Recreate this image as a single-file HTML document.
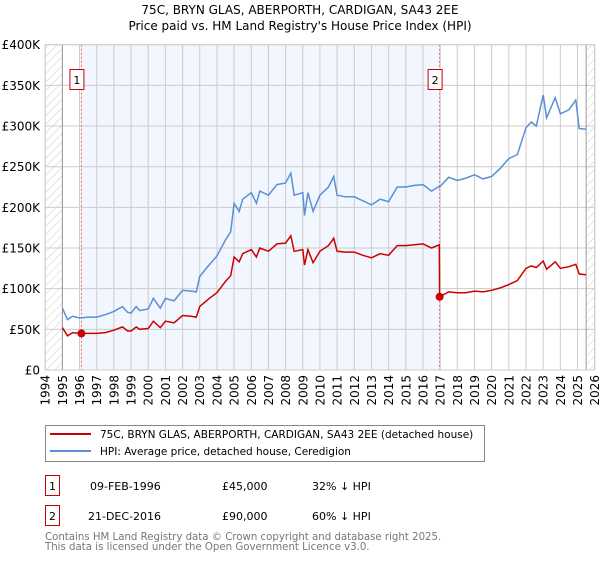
<!DOCTYPE html>
<html><head><meta charset="utf-8"><style>
body{margin:0;background:#fff;font-family:"DejaVu Sans","Liberation Sans",sans-serif;}
svg text{font-family:"DejaVu Sans","Liberation Sans",sans-serif;}
</style></head><body>
<svg id="chart" width="600" height="560" xmlns="http://www.w3.org/2000/svg">
<defs><pattern id="hatch" width="6" height="6" patternUnits="userSpaceOnUse" patternTransform="rotate(45)"><line x1="0" y1="0" x2="0" y2="6" stroke="#ccc" stroke-width="1"/></pattern></defs>
<text x="300" y="14" text-anchor="middle" font-size="12">75C, BRYN GLAS, ABERPORTH, CARDIGAN, SA43 2EE</text>
<text x="300" y="30" text-anchor="middle" font-size="12">Price paid vs. HM Land Registry's House Price Index (HPI)</text>
<g id="plot"></g>
<g>
<rect x="45.5" y="425.5" width="439" height="36" fill="#fff" stroke="#888"/>
<line x1="50" y1="434" x2="91" y2="434" stroke="#cc0000" stroke-width="2"/>
<text x="100" y="438" font-size="10.5">75C, BRYN GLAS, ABERPORTH, CARDIGAN, SA43 2EE (detached house)</text>
<line x1="50" y1="451" x2="91" y2="451" stroke="#5b8fd6" stroke-width="2"/>
<text x="100" y="455" font-size="10.5">HPI: Average price, detached house, Ceredigion</text>
</g>
<g font-size="11">
<rect x="45.5" y="475.5" width="14" height="20" fill="#fff" stroke="#cc0000"/>
<text x="52.5" y="490" text-anchor="middle">1</text>
<text x="90" y="490">09-FEB-1996</text><text x="222" y="490">£45,000</text><text x="312" y="490">32% ↓ HPI</text>
<rect x="45.5" y="505.5" width="14" height="20" fill="#fff" stroke="#cc0000"/>
<text x="52.5" y="520" text-anchor="middle">2</text>
<text x="88" y="520">21-DEC-2016</text><text x="222" y="520">£90,000</text><text x="312" y="520">60% ↓ HPI</text>
</g>
<text x="45" y="540" font-size="10.2" fill="#777">Contains HM Land Registry data © Crown copyright and database right 2025.</text>
<text x="45" y="550" font-size="10.2" fill="#777">This data is licensed under the Open Government Licence v3.0.</text>
</svg>
<script>
const years=[1994,1995,1996,1997,1998,1999,2000,2001,2002,2003,2004,2005,2006,2007,2008,2009,2010,2011,2012,2013,2014,2015,2016,2017,2018,2019,2020,2021,2022,2023,2024,2025,2026];
const yTicks=[0,50,100,150,200,250,300,350,400];
const yTickLabels=["£0","£50K","£100K","£150K","£200K","£250K","£300K","£350K","£400K"];
const dates=[1995.0,1995.3,1995.6,1996.0,1996.5,1997.0,1997.5,1998.0,1998.5,1998.8,1999.0,1999.3,1999.5,2000.0,2000.3,2000.7,2001.0,2001.5,2002.0,2002.5,2002.8,2003.0,2003.5,2004.0,2004.5,2004.8,2005.0,2005.3,2005.5,2006.0,2006.3,2006.5,2007.0,2007.5,2008.0,2008.3,2008.5,2009.0,2009.1,2009.3,2009.6,2010.0,2010.5,2010.8,2011.0,2011.5,2012.0,2012.5,2013.0,2013.5,2014.0,2014.5,2015.0,2015.5,2016.0,2016.5,2016.95,2016.97,2017.5,2018.0,2018.5,2019.0,2019.5,2020.0,2020.5,2021.0,2021.5,2022.0,2022.3,2022.6,2023.0,2023.2,2023.7,2024.0,2024.5,2024.9,2025.1,2025.5];
const hpi=[76,62,66,64,65,65,68,72,78,71,70,78,73,75,88,76,88,85,98,97,96,115,128,140,160,170,205,195,210,218,205,220,215,228,230,242,215,218,190,218,195,215,225,238,215,213,213,208,203,210,207,225,225,227,228,220,226,225,237,233,236,240,235,238,248,260,265,298,305,300,338,310,335,315,320,332,297,296];
const price=[52,42,46,45,45,45,46,49,53,48,48,53,50,51,60,52,60,58,67,66,65,78,87,95,109,116,139,133,143,148,139,150,146,155,156,165,146,148,129,148,132,146,153,162,146,145,145,141,138,143,141,153,153,154,155,150,154,90,96,95,95,97,96,98,101,105,110,125,128,126,134,124,133,125,127,130,118,117];
const sales=[{n:"1",d:1996.11,v:45},{n:"2",d:2016.97,v:90}];
const X0=45.2,X1=594.7,Y0=370,Y1=44.7;
const xs=d=>X0+(d-1994)/(2026-1994)*(X1-X0);
const ys=v=>Y0-(v/400)*(Y0-Y1);
const NS="http://www.w3.org/2000/svg";
const g=document.getElementById('plot');
function mk(t,a){const e=document.createElementNS(NS,t);for(const k in a)e.setAttribute(k,a[k]);g.appendChild(e);return e;}
let e;
e=mk('rect',{x:xs(1994),y:Y1,width:xs(1995)-xs(1994),height:Y0-Y1,fill:'url(#hatch)'});


e=mk('rect',{x:xs(2025.5),y:Y1,width:xs(2026)-xs(2025.5),height:Y0-Y1,fill:'url(#hatch)'});


e=mk('rect',{x:xs(sales[0].d),y:Y1,width:xs(sales[1].d)-xs(sales[0].d),height:Y0-Y1,fill:'#f2f6fe'});


years.forEach(y=>{
 e=mk('line',{x1:xs(y),x2:xs(y),y1:Y1,y2:Y0,stroke:'#ccc','stroke-width':1});
 
 
 e=mk('text',{x:0,y:0,'font-size':12,'text-anchor':'end',transform:`translate(${xs(y)+4.5},375) rotate(-90)`});
 e.textContent=y;
 
 
});
yTicks.forEach((v,i)=>{
 e=mk('line',{x1:X0,x2:X1,y1:ys(v),y2:ys(v),stroke:'#ccc','stroke-width':1});
 
 
 e=mk('text',{x:40,y:ys(v)+4.5,'font-size':12,'text-anchor':'end'});
 e.textContent=yTickLabels[i];
 
 
});
[1995,2025.5].forEach(d=>{
 e=mk('line',{x1:xs(d),x2:xs(d),y1:Y1,y2:Y0,stroke:'#999','stroke-width':1});
 
 
});
sales.forEach(s=>{
 e=mk('line',{x1:xs(s.d),x2:xs(s.d),y1:Y1,y2:Y0,stroke:'#e66','stroke-width':1,'stroke-dasharray':'2,2'});
 
 
 e=mk('rect',{x:xs(s.d)-11.5,y:69.5,width:14,height:20,fill:'#fff',stroke:'#cc0000'});
 
 
 e=mk('text',{x:xs(s.d)-4.5,y:84,'font-size':11,'text-anchor':'middle'});
 e.textContent=s.n;
 
 
});
e=mk('path',{d:dates.map((d,i)=>(i?'L':'M')+xs(d).toFixed(1)+','+ys(hpi[i]).toFixed(1)).join(''),fill:'none',stroke:'#5b8fd6','stroke-width':1.5});


e=mk('path',{d:dates.map((d,i)=>(i?'L':'M')+xs(d).toFixed(1)+','+ys(price[i]).toFixed(1)).join(''),fill:'none',stroke:'#cc0000','stroke-width':1.5});


sales.forEach(s=>{
 e=mk('circle',{cx:xs(s.d),cy:ys(s.v),r:4,fill:'#cc0000'});
 
 
});
e=mk('rect',{x:X0,y:Y1,width:X1-X0,height:Y0-Y1,fill:'none',stroke:'#ccc'});


</script>
</body></html>
